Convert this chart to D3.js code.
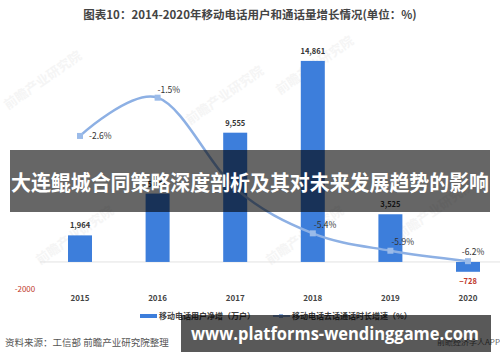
<!DOCTYPE html>
<html>
<head>
<meta charset="utf-8">
<script src="https://cdn.jsdelivr.net/npm/d3@7"></script>
<style>
  body { margin: 0; background: #fff; }
  svg { display: block; font-family: "Noto Sans CJK SC", "Liberation Sans", sans-serif; }
</style>
</head>
<body>
<svg id="chart" width="500" height="362"></svg>
<script>
var years = ["2015", "2016", "2017", "2018", "2019", "2020"];
var netAdds = [1964, 5054, 9555, 14861, 3525, -728];   // 万户
var callGrowth = [-2.6, -1.5, -4.1, -5.4, -5.9, -6.2];  // %
var barTicks = [-2000];
var lineLabelShown = [true, true, false, true, true, true];

var svg = d3.select("#chart");

var x = d3.scalePoint()
    .domain(years)
    .range([80, 468]);

var barW = 24;

var yBar = d3.scaleLinear()
    .domain([-2000, 16000])
    .range([289, 45.5]);

var yLine = d3.scaleLinear()
    .domain([-7, 0])
    .range([289, 45.5]);

// faint watermarks
var marks = [[8, 110], [190, 125], [280, 95], [40, 265], [270, 265], [400, 240]];
svg.append("g")
  .selectAll("text")
  .data(marks)
  .enter().append("text")
    .attr("transform", function(d) { return "translate(" + d[0] + "," + d[1] + ") rotate(-35)"; })
    .attr("fill", "#f5f5f5")
    .attr("font-size", 13)
    .attr("font-weight", "bold")
    .text("前瞻产业研究院");

// title
svg.append("text")
    .attr("x", 250)
    .attr("y", 19)
    .attr("text-anchor", "middle")
    .attr("font-size", 11.5)
    .attr("font-weight", "bold")
    .attr("fill", "#444")
    .text("图表10：2014-2020年移动电话用户和通话量增长情况(单位：%)");

// zero line
svg.append("line")
    .attr("x1", 40).attr("x2", 500)
    .attr("y1", yBar(0)).attr("y2", yBar(0))
    .attr("stroke", "#e2e2e2");

// left axis tick
svg.append("g")
  .selectAll("text")
  .data(barTicks)
  .enter().append("text")
    .attr("x", 25)
    .attr("y", function(d) { return yBar(d) + 3; })
    .attr("text-anchor", "middle")
    .attr("font-size", 8)
    .attr("fill", "#c0392b")
    .text(function(d) { return d; });

// bars
var data = years.map(function(y, i) { return { year: y, v: netAdds[i], g: callGrowth[i], show: lineLabelShown[i] }; });

svg.append("g")
  .selectAll("rect")
  .data(data)
  .enter().append("rect")
    .attr("x", function(d) { return x(d.year) - barW / 2; })
    .attr("width", barW)
    .attr("y", function(d) { return yBar(Math.max(0, d.v)); })
    .attr("height", function(d) { return Math.abs(yBar(d.v) - yBar(0)); })
    .attr("fill", "#3d7edb");

svg.append("g")
  .selectAll("text")
  .data(data)
  .enter().append("text")
    .attr("x", function(d) { return x(d.year); })
    .attr("y", function(d) { return d.v >= 0 ? yBar(d.v) - 7 : yBar(d.v) + 12; })
    .attr("text-anchor", "middle")
    .attr("font-size", 7.5)
    .attr("font-weight", "bold")
    .attr("fill", function(d) { return d.v < 0 ? "#c0392b" : "#333"; })
    .text(function(d) { return d3.format(",")(d.v); });

// line
var line = d3.line()
    .x(function(d) { return x(d.year); })
    .y(function(d) { return yLine(d.g); })
    .curve(d3.curveCatmullRom.alpha(0));

svg.append("path")
    .datum(data)
    .attr("d", line)
    .attr("fill", "none")
    .attr("stroke", "#8db0e4")
    .attr("stroke-width", 2.5);

svg.append("g")
  .selectAll("rect")
  .data(data)
  .enter().append("rect")
    .attr("x", function(d) { return x(d.year) - 3; })
    .attr("y", function(d) { return yLine(d.g) - 3; })
    .attr("width", 6)
    .attr("height", 6)
    .attr("fill", "#9bbbe9");

var lineLabelOffset = {
  "2015": [9, 3, "start"],
  "2016": [0, -5, "start"],
  "2018": [1, -5, "start"],
  "2019": [1, -6, "start"],
  "2020": [5, -6, "middle"]
};

svg.append("g")
  .selectAll("text")
  .data(data.filter(function(d) { return d.show; }))
  .enter().append("text")
    .attr("x", function(d) { return x(d.year) + lineLabelOffset[d.year][0]; })
    .attr("y", function(d) { return yLine(d.g) + lineLabelOffset[d.year][1]; })
    .attr("text-anchor", function(d) { return lineLabelOffset[d.year][2]; })
    .attr("font-size", 8.5)
    .attr("fill", "#333")
    .text(function(d) { return d.g + "%"; });

// year labels
svg.append("g")
  .selectAll("text")
  .data(years)
  .enter().append("text")
    .attr("x", function(d) { return x(d); })
    .attr("y", 301)
    .attr("text-anchor", "middle")
    .attr("font-size", 8)
    .attr("font-weight", "bold")
    .attr("fill", "#444")
    .text(function(d) { return d; });

// legend
var lg = svg.append("g").attr("transform", "translate(0,316)");
lg.append("rect").attr("x", 140).attr("y", -2).attr("width", 17).attr("height", 4).attr("fill", "#3d7edb");
lg.append("text").attr("x", 159).attr("y", 3).attr("font-size", 8).attr("font-weight", "bold").attr("fill", "#444")
    .text("移动电话用户净增（万户）");
lg.append("line").attr("x1", 273).attr("x2", 290).attr("y1", 0).attr("y2", 0).attr("stroke", "#8db0e4").attr("stroke-width", 2);
lg.append("rect").attr("x", 279).attr("y", -2).attr("width", 4).attr("height", 4).attr("fill", "#8db0e4");
lg.append("text").attr("x", 292).attr("y", 3).attr("font-size", 8).attr("font-weight", "bold").attr("fill", "#444")
    .text("移动电话去话通话时长增速（%）");

// footer
svg.append("text")
    .attr("x", 5)
    .attr("y", 346)
    .attr("font-size", 9.5)
    .attr("fill", "#555")
    .text("资料来源：工信部 前瞻产业研究院整理");

svg.append("text")
    .attr("x", 500)
    .attr("y", 345)
    .attr("text-anchor", "end")
    .attr("font-size", 8)
    .attr("fill", "#666")
    .text("前瞻经济学人APP");

// overlay banners
svg.append("rect")
    .attr("x", 10).attr("y", 150).attr("width", 480).attr("height", 62)
    .attr("fill", "rgba(0,0,0,0.6)");

svg.append("text")
    .attr("x", 250)
    .attr("y", 190)
    .attr("text-anchor", "middle")
    .attr("font-size", 21)
    .attr("font-weight", "bold")
    .attr("fill", "#fff")
    .attr("textLength", 478)
    .attr("lengthAdjust", "spacingAndGlyphs")
    .text("大连鲲城合同策略深度剖析及其对未来发展趋势的影响");

svg.append("rect")
    .attr("x", 181).attr("y", 315).attr("width", 310).attr("height", 37)
    .attr("fill", "rgba(0,0,0,0.65)");

svg.append("text")
    .attr("x", 191)
    .attr("y", 340)
    .attr("font-family", "'Open Sans', sans-serif")
    .attr("font-size", 18)
    .attr("font-weight", "bold")
    .attr("fill", "#fff")
    .attr("textLength", 288)
    .attr("lengthAdjust", "spacingAndGlyphs")
    .text("www.platforms-wendinggame.com");
</script>
</body>
</html>
